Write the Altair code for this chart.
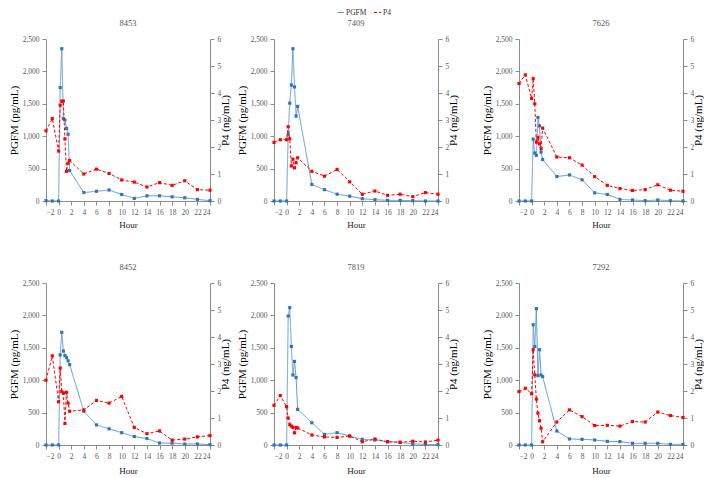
import altair as alt
import pandas as pd

hours = [-2, -1, 0, 0.25, 0.5, 0.75, 1, 1.25, 1.5, 1.75, 4, 6, 8, 10, 12, 14, 16, 18, 20, 22, 24]

panels = ["8453", "7409", "7626", "8452", "7819", "7292"]

pgfm_8453 = [5, 0, 0, 1750, 2350, 1270, 1250, 1120, 1030, 470, 130, 150, 170, 100, 40, 80, 80, 65, 50, 25, 5]
p4_8453 = [2.6, 3.05, 1.85, 3.55, 3.7, 3.7, 2.3, 1.1, 1.4, 1.5, 1.0, 1.18, 1.02, 0.78, 0.7, 0.52, 0.68, 0.58, 0.75, 0.42, 0.4]

pgfm_7409 = [0, 0, 0, 1030, 1510, 1790, 2350, 1760, 1310, 1460, 255, 175, 105, 75, 35, 20, 10, 10, 5, 0, 0]
p4_7409 = [2.17, 2.27, 2.27, 2.75, 2.3, 1.3, 1.55, 1.23, 1.42, 1.6, 1.1, 0.92, 1.17, 0.71, 0.25, 0.37, 0.21, 0.25, 0.16, 0.31, 0.25]

pgfm_7626 = [0, 0, 0, 955, 740, 705, 1290, 1160, 755, 640, 377, 402, 327, 126, 100, 25, 15, 5, 15, 5, 0]
p4_7626 = [4.35, 4.67, 3.8, 4.53, 3.6, 2.18, 2.36, 2.12, 1.94, 2.7, 1.63, 1.6, 1.33, 0.9, 0.58, 0.46, 0.39, 0.42, 0.6, 0.4, 0.36]

pgfm_8452 = [0, 0, 0, 1390, 1740, 1450, 1380, 1350, 1300, 1240, 520, 310, 250, 190, 130, 100, 30, 30, 15, 15, 5]
p4_8452 = [2.4, 3.3, 1.6, 2.85, 1.98, 1.92, 0.8, 1.95, 1.55, 1.25, 1.3, 1.65, 1.55, 1.8, 0.65, 0.42, 0.52, 0.18, 0.22, 0.3, 0.35]

pgfm_7819 = [0, 0, 0, 1990, 2120, 1520, 1080, 1290, 1040, 550, 344, 164, 190, 139, 87, 77, 51, 41, 15, 10, 5]
p4_7819 = [1.47, 1.83, 1.42, 1.0, 0.75, 0.7, 0.65, 0.45, 0.65, 0.63, 0.37, 0.3, 0.28, 0.33, 0.12, 0.22, 0.12, 0.1, 0.14, 0.11, 0.18]

pgfm_7292 = [0, 0, 0, 1856, 1520, 2105, 1070, 1470, 1080, 1055, 216, 93, 88, 77, 57, 52, 26, 26, 26, 10, 10]
p4_7292 = [1.98, 2.1, 1.9, 3.53, 2.6, 1.7, 1.18, 0.9, 0.62, 0.12, 0.85, 1.3, 1.05, 0.72, 0.73, 0.7, 0.87, 0.85, 1.22, 1.09, 1.02]

pgfm_all = [pgfm_8453, pgfm_7409, pgfm_7626, pgfm_8452, pgfm_7819, pgfm_7292]
p4_all = [p4_8453, p4_7409, p4_7626, p4_8452, p4_7819, p4_7292]

x_ticks = list(range(-2, 25, 2))
pg_ticks = [0, 500, 1000, 1500, 2000, 2500]
p4_ticks = [0, 1, 2, 3, 4, 5, 6]

BLUE_LINE = "#5b9bd5"
BLUE_PT = "#2e75b6"
RED = "#ff0000"
FONT = "Liberation Serif"
GRAY = "#595959"
AX = "#8c8c8c"

rows = []
for name, pg, p4 in zip(panels, pgfm_all, p4_all):
    for h, a, b in zip(hours, pg, p4):
        rows.append({"panel": name, "hour": h, "series": "PGFM", "value": a})
        rows.append({"panel": name, "hour": h, "series": "P4", "value": b})
df = pd.DataFrame(rows)

color_scale = alt.Scale(domain=["PGFM", "P4"], range=[BLUE_LINE, RED])
dash_scale = alt.Scale(domain=["PGFM", "P4"], range=[[1, 0], [3, 2]])


def x_enc(pad):
    return alt.X(
        "hour:Q",
        scale=alt.Scale(domain=[-2, 24], nice=False, zero=False),
        axis=alt.Axis(values=x_ticks, title="Hour", grid=False, labelFontSize=7.5,
                      labelOverlap=False, labelFont=FONT, labelColor=GRAY, labelPadding=3,
                      titleFont=FONT, titleFontWeight="normal", titleColor="#222222",
                      titleFontSize=9, titlePadding=pad, tickSize=4,
                      domainColor=AX, tickColor=AX),
    )


def make_legend():
    return alt.Legend(title=None, orient="none", legendX=290, legendY=-31,
                      direction="horizontal", labelFontSize=7.5, symbolSize=50,
                      symbolStrokeWidth=1, columnPadding=4, labelOffset=1,
                      symbolType="stroke", labelFont=FONT, labelColor="#333333",
                      padding=0, offset=0)


def panel(name, first, pad):
    base = alt.Chart(df).transform_filter(alt.datum.panel == name)
    pg = base.transform_filter(alt.datum.series == "PGFM")
    p4 = base.transform_filter(alt.datum.series == "P4")
    xe = x_enc(pad)
    y_pg = alt.Y("value:Q", scale=alt.Scale(domain=[0, 2500], nice=False),
                 axis=alt.Axis(values=pg_ticks, labelExpr="format(datum.value, ',')",
                               title="PGFM (pg/mL)", grid=False, labelFontSize=7.5,
                               labelFont=FONT, labelColor=GRAY, titleFont=FONT,
                               titleFontWeight="normal", titleColor="#000000",
                               titleFontSize=11, tickSize=4, titlePadding=3, labelPadding=3,
                               domainColor=AX, tickColor=AX))
    y_p4 = alt.Y("value:Q", scale=alt.Scale(domain=[0, 6], nice=False),
                 axis=alt.Axis(values=p4_ticks, title="P4 (ng/mL)", grid=False,
                               labelFontSize=7.5, labelFont=FONT, labelColor=GRAY,
                               titleFont=FONT, titleFontWeight="normal",
                               titleColor="#000000", titleFontSize=11, titleAngle=270,
                               tickSize=4, titlePadding=10, labelPadding=3,
                               domainColor=AX, tickColor=AX))
    if first:
        color = alt.Color("series:N", scale=color_scale, legend=make_legend())
        dash = alt.StrokeDash("series:N", scale=dash_scale, legend=make_legend())
    else:
        color = alt.Color("series:N", scale=color_scale, legend=None)
        dash = alt.StrokeDash("series:N", scale=dash_scale, legend=None)
    pg_line = pg.mark_line(strokeWidth=1).encode(x=xe, y=y_pg, color=color, strokeDash=dash)
    pg_pts = pg.mark_point(shape="square", filled=True, size=10, color=BLUE_PT, opacity=1).encode(x=xe, y=y_pg)
    p4_line = p4.mark_line(strokeWidth=1).encode(
        x=xe, y=y_p4,
        color=alt.Color("series:N", scale=color_scale, legend=None),
        strokeDash=alt.StrokeDash("series:N", scale=dash_scale, legend=None),
    )
    p4_pts = p4.mark_point(shape="square", filled=True, size=10, color=RED, opacity=1).encode(x=xe, y=y_p4)
    left = alt.layer(pg_line, pg_pts)
    right = alt.layer(p4_line, p4_pts)
    return alt.layer(left, right).resolve_scale(y="independent").properties(
        width=164, height=162,
        title=alt.TitleParams(name, fontSize=8.5, font=FONT, fontWeight="normal",
                              color=GRAY, offset=8),
    )


def row(names, first_row, pad):
    p = [panel(n, first_row and i == 0, pad) for i, n in enumerate(names)]
    return alt.hconcat(alt.hconcat(p[0], p[1], spacing=5), p[2], spacing=22)


top = row(panels[:3], True, 5)
bottom = row(panels[3:], False, 7)

chart = alt.vconcat(top, bottom, spacing=32).properties(
    background="white", padding={"left": 0, "top": 0, "right": 0, "bottom": 0}
).configure_view(strokeWidth=0)

chart.save("out.html", embed_options={"renderer": "svg", "actions": False})
